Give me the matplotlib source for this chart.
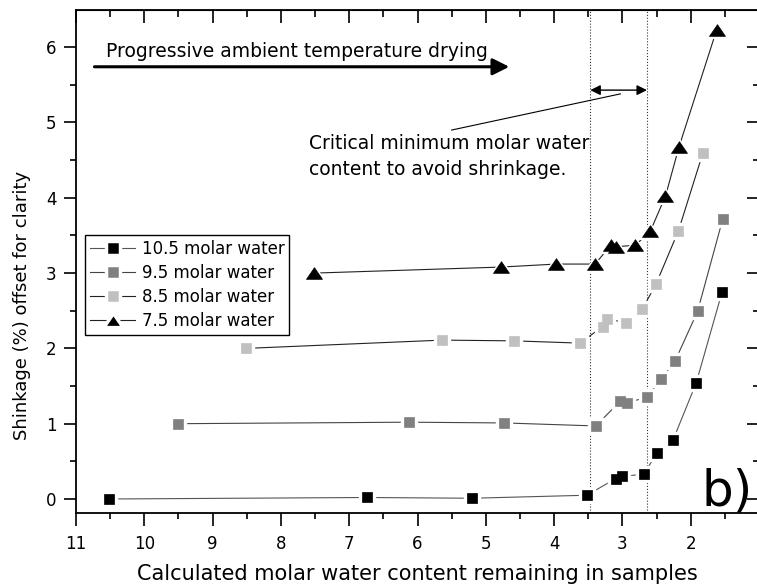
import numpy as np
import matplotlib
matplotlib.use("Agg")
import matplotlib.pyplot as plt
from matplotlib.ticker import MultipleLocator

plt.rcParams['font.family'] = ['DejaVu Sans']

# water content remaining (x) and shrinkage offset (y), one pair per series
x_105 = [10.51, 6.74, 5.20, 3.52, 3.10, 3.00, 2.69, 2.49, 2.26, 1.92, 1.54]
y_105 = [0.00, 0.02, 0.01, 0.05, 0.27, 0.30, 0.33, 0.61, 0.78, 1.54, 2.75]

x_95 = [9.50, 6.12, 4.73, 3.39, 3.03, 2.93, 2.64, 2.43, 2.23, 1.90, 1.53]
y_95 = [1.00, 1.02, 1.01, 0.97, 1.30, 1.28, 1.35, 1.60, 1.83, 2.49, 3.72]

x_85 = [8.51, 5.64, 4.58, 3.62, 3.29, 3.22, 2.94, 2.71, 2.51, 2.18, 1.82]
y_85 = [2.00, 2.11, 2.10, 2.07, 2.29, 2.39, 2.34, 2.52, 2.85, 3.56, 4.60]

x_75 = [7.51, 4.78, 3.97, 3.40, 3.17, 3.09, 2.81, 2.59, 2.37, 2.17, 1.62]
y_75 = [3.00, 3.08, 3.12, 3.12, 3.37, 3.35, 3.37, 3.56, 4.02, 4.68, 6.23]

labels = ["10.5 molar water", "9.5 molar water", "8.5 molar water", "7.5 molar water"]
critical = [3.47, 2.64]
xtick_labels = ["", "2", "3", "4", "5", "6", "7", "8", "9", "10", "11"]

W, H = 757, 585
fig = plt.figure(figsize=(W/100, H/100), dpi=100)
ax = fig.add_axes([76/W, 72/H, (759-76)/W, (513-10)/H])

tri = [(-1, -0.73), (1, -0.73), (0, 0.73), (-1, -0.73)]
series = [
    (x_105, y_105, 's', '#000000', '#555555', 7.3),
    (x_95, y_95, 's', '#808080', '#444444', 7.3),
    (x_85, y_85, 's', '#c0c0c0', '#222222', 7.3),
    (x_75, y_75, tri, '#000000', '#222222', 11.5),
]
handles = []
for (xs, ys, mk, mc, lc, ms), lab in zip(series, labels):
    ax.plot(xs, ys, color=lc, lw=0.8, zorder=2)
    # white halo so the line stops short of each marker
    ax.plot(xs, ys, ls='none', marker=mk, ms=ms + 4, mfc='white', mec='white', zorder=3)
    ax.plot(xs, ys, ls='none', marker=mk, ms=ms, mfc=mc, mec=mc, mew=0.5, zorder=4)
    h, = ax.plot([], [], color=lc, lw=0.8, marker=mk, ms=ms + 2.5, mfc=mc,
                 mec='white', mew=2.5, label=lab)
    handles.append(h)

for xc in critical:
    ax.axvline(xc, color='#333333', lw=0.8, ls=':', zorder=1)

ax.set_xlim(11, 1)
ax.set_ylim(-0.186, 6.494)
ax.set_xticks(range(1, 12))
ax.set_xticklabels(xtick_labels)
ax.set_yticks(range(0, 7))
ax.xaxis.set_minor_locator(MultipleLocator(0.5))
ax.yaxis.set_minor_locator(MultipleLocator(0.5))
ax.tick_params(which='major', direction='out', length=9, width=1.2, labelsize=12)
ax.tick_params(which='minor', direction='out', length=4.5, width=1.2)
ax.tick_params(axis='x', pad=7)
ax.tick_params(axis='y', pad=5)
for s in ax.spines.values():
    s.set_linewidth(1.3)

top = ax.secondary_xaxis('top')
top.set_xticks(range(1, 12))
top.xaxis.set_minor_locator(MultipleLocator(0.5))
top.tick_params(which='major', direction='in', length=9, width=1.2, labeltop=False)
top.tick_params(which='minor', direction='in', length=5, width=1.2)
right = ax.secondary_yaxis('right')
right.set_yticks(range(0, 7))
right.yaxis.set_minor_locator(MultipleLocator(0.5))
right.tick_params(which='major', direction='in', length=9, width=1.2, labelright=False)
right.tick_params(which='minor', direction='in', length=4.5, width=1.2)

ax.set_xlabel("Calculated molar water content remaining in samples", fontsize=15, labelpad=8)
fig.text(22/W, 1 - 305/H, "Shinkage (%) offset for clarity", rotation=90,
         fontsize=13, ha='center', va='center')

# drying direction arrow
ax.annotate("", xy=(4.656, 5.74), xytext=(10.73, 5.74),
            arrowprops=dict(arrowstyle='-|>,head_length=1.0,head_width=0.5',
                            color='black', lw=2.2, shrinkA=0, shrinkB=0))
ax.text(10.56, 5.87, "Progressive ambient temperature drying", fontsize=13.5, va='baseline')

# critical window double arrow and pointer
ax.annotate("", xy=(critical[1], 5.43), xytext=(critical[0], 5.43),
            arrowprops=dict(arrowstyle='<|-|>,head_length=0.6,head_width=0.3',
                            color='black', lw=1.0, shrinkA=0, shrinkB=0))
ax.plot([3.03, 5.50], [5.38, 4.90], color='black', lw=0.8)
ax.text(7.59, 4.65, "Critical minimum molar water", fontsize=13.5, va='baseline')
ax.text(7.59, 4.30, "content to avoid shrinkage.", fontsize=13.5, va='baseline')

ax.text(1.835, -0.08, "b)", fontsize=36, va='baseline')

leg = ax.legend(handles=handles, loc='upper left', bbox_to_anchor=(85/W, 1 - 235/H),
                bbox_transform=fig.transFigure,
                fontsize=12, handlelength=2.7, handletextpad=0.4, labelspacing=0.35,
                borderpad=0.3, borderaxespad=0, fancybox=False, framealpha=1)
leg.get_frame().set_edgecolor('black')
leg.get_frame().set_linewidth(1.0)

fig.savefig("out.png", dpi=100)
